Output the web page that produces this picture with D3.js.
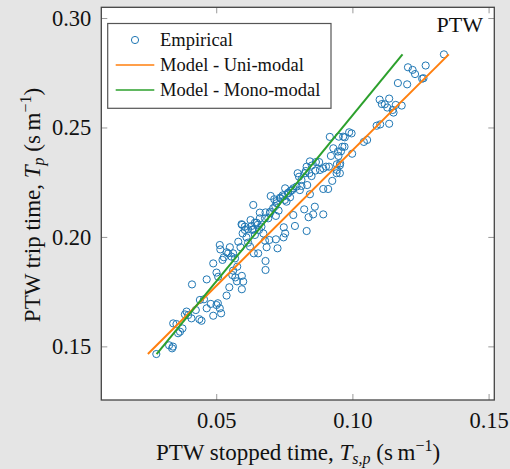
<!DOCTYPE html>
<html>
<head>
<meta charset="utf-8">
<script src="https://cdn.jsdelivr.net/npm/d3@7"></script>
<style>
body { margin: 0; background: #e5e5e5; }
text { font-family: "Liberation Serif", "DejaVu Serif", serif; fill: #111; }
</style>
</head>
<body>
<script>
// empirical points, stopped time (x) vs trip time (y)
var stopped = [
 0.1336,0.1269,0.1204,0.1221,0.1230,0.1256,0.1261,0.1167,0.1201,0.1100,
 0.1135,0.1108,0.1119,0.1128,0.1159,0.1181,0.1148,0.1151,0.1135,0.1102,
 0.1089,0.1054,0.1042,0.0999,0.0988,0.0997,0.0966,0.0972,0.0950,0.0917,
 0.0963,0.0971,0.0930,0.0958,0.0947,0.0921,0.0949,0.0955,0.0943,0.0954,
 0.0943,0.0942,0.0954,0.0926,0.0911,0.0893,0.0893,0.0903,0.0914,0.0844,
 0.0866,0.0878,0.0851,0.0864,0.0881,0.0842,0.0850,0.0829,0.0834,0.0844,
 0.0862,0.0856,0.0893,0.0839,0.0832,0.0789,0.0799,0.0804,0.0813,0.0807,
 0.0783,0.0773,0.0764,0.0753,0.0771,0.0752,0.0744,0.0734,0.0722,0.0717,
 0.0700,0.0713,0.0758,0.0823,0.0783,0.0729,0.0719,0.0697,0.0681,0.0660,
 0.0636,0.0748,0.0753,0.0747,0.0719,0.0725,0.0695,0.0685,0.0679,0.0673,
 0.0666,0.0652,0.0648,0.0636,0.0630,0.0617,0.0642,0.0657,0.0605,0.0593,
 0.0597,0.0611,0.0617,0.0624,0.0638,0.0654,0.0681,0.0681,0.0589,0.0562,
 0.0581,0.0550,0.0538,0.0528,0.0523,0.0544,0.0556,0.0569,0.0513,0.0515,
 0.0489,0.0501,0.0507,0.0562,0.0577,0.0559,0.0570,0.0594,0.0599,0.0576,
 0.0548,0.0594,0.0538,0.0506,0.0513,0.0518,0.0501,0.0489,0.0465,0.0480,
 0.0455,0.0465,0.0411,0.0440,0.0446,0.0438,0.0425,0.0409,0.0397,0.0391,
 0.0385,0.0376,0.0367,0.0360,0.0354,0.0342,0.0327,0.0338,0.0341,0.0280,
 0.0595,0.0605,0.0626,0.0632,0.0642,0.0660,0.0679,0.0691,0.0698,0.0709,
 0.0722,0.0736,0.0746,0.0764,0.0779,0.0795,0.0813,0.0826,0.0832
];
var trip = [
 0.2834,0.2783,0.2775,0.2763,0.2744,0.2723,0.2725,0.2703,0.2697,0.2627,
 0.2632,0.2607,0.2606,0.2591,0.2603,0.2600,0.2580,0.2568,0.2517,0.2514,
 0.2508,0.2443,0.2434,0.2380,0.2478,0.2473,0.2458,0.2455,0.2458,0.2457,
 0.2412,0.2412,0.2405,0.2391,0.2390,0.2370,0.2370,0.2336,0.2332,0.2327,
 0.2306,0.2291,0.2291,0.2256,0.2219,0.2219,0.2313,0.2321,0.2321,0.2345,
 0.2342,0.2342,0.2326,0.2303,0.2306,0.2291,0.2278,0.2301,0.2237,0.2195,
 0.2138,0.2103,0.2103,0.2090,0.2027,0.2050,0.2291,0.2275,0.2233,0.2214,
 0.2222,0.2211,0.2199,0.2222,0.2181,0.2169,0.2190,0.2179,0.2164,0.2141,
 0.2187,0.2172,0.2161,0.2126,0.2100,0.2120,0.2096,0.2108,0.2112,0.2111,
 0.2146,0.2044,0.2016,0.1998,0.1989,0.1948,0.1986,0.1953,0.1983,0.2016,
 0.2047,0.2055,0.2065,0.2035,0.2050,0.2035,0.2009,0.2032,0.2032,0.2058,
 0.2016,0.1998,0.1974,0.1956,0.1925,0.1925,0.1890,0.1849,0.1953,0.1925,
 0.1978,0.1953,0.1930,0.1907,0.1895,0.1925,0.1910,0.1902,0.1963,0.1943,
 0.1879,0.1837,0.1818,0.1846,0.1864,0.1826,0.1815,0.1822,0.1796,0.1797,
 0.1770,0.1761,0.1732,0.1697,0.1674,0.1651,0.1689,0.1640,0.1674,0.1694,
 0.1715,0.1806,0.1783,0.1712,0.1617,0.1624,0.1666,0.1628,0.1643,0.1659,
 0.1646,0.1582,0.1567,0.1560,0.1602,0.1605,0.1505,0.1491,0.1499,0.1465,
 0.2055,0.2047,0.2077,0.2032,0.2065,0.2085,0.2085,0.2085,0.2115,0.2131,
 0.2154,0.2175,0.2184,0.2202,0.2214,0.2230,0.2260,0.2291,0.2321
];

// model lines (end points)
var uniX = [0.0249, 0.1354];
var uniY = [0.1465, 0.2834];
var monoX = [0.0281, 0.1184];
var monoY = [0.1465, 0.2834];

var xTicks = [0.05, 0.10, 0.15];
var yTicks = [0.15, 0.20, 0.25, 0.30];
var legendLabels = ["Empirical", "Model - Uni-modal", "Model - Mono-modal"];

var W = 510, H = 469;
var pLeft = 101.3, pRight = 494.3, pTop = 7.3, pBottom = 400;
var serif = '"Liberation Serif", "DejaVu Serif", serif';

var svg = d3.select("body").append("svg")
    .attr("width", W)
    .attr("height", H);

var x = d3.scaleLinear().domain([0.0078, 0.1521]).range([pLeft, pRight]);
var y = d3.scaleLinear().domain([0.1255, 0.3049]).range([pBottom, pTop]);

// plot background
svg.append("rect")
    .attr("x", pLeft).attr("y", pTop)
    .attr("width", pRight - pLeft).attr("height", pBottom - pTop)
    .attr("fill", "#fff");

// ticks on all four sides, pointing inward
var tickFmt = d3.format(".2f");
svg.append("g").attr("transform", "translate(0," + pBottom + ")")
    .call(d3.axisBottom(x).tickValues(xTicks).tickSize(-6).tickFormat(tickFmt).tickPadding(12))
    .call(g => g.select(".domain").remove());
svg.append("g").attr("transform", "translate(0," + pTop + ")")
    .call(d3.axisTop(x).tickValues(xTicks).tickSize(-6).tickFormat(""))
    .call(g => g.select(".domain").remove());
svg.append("g").attr("transform", "translate(" + pLeft + ",0)")
    .call(d3.axisLeft(y).tickValues(yTicks).tickSize(-6).tickFormat(tickFmt).tickPadding(10))
    .call(g => g.select(".domain").remove());
svg.append("g").attr("transform", "translate(" + pRight + ",0)")
    .call(d3.axisRight(y).tickValues(yTicks).tickSize(-6).tickFormat(""))
    .call(g => g.select(".domain").remove());

svg.selectAll("g.tick").select("line").attr("stroke", "#999").attr("stroke-width", 1);
svg.selectAll("g.tick").select("text")
    .attr("font-family", null)
    .style("font-family", serif)
    .style("font-size", "22.5px")
    .attr("fill", "#111");

// scatter
svg.append("g").selectAll("circle")
    .data(stopped)
    .enter()
    .append("circle")
    .attr("cx", function (d) { return x(d); })
    .attr("cy", function (d, i) { return y(trip[i]); })
    .attr("r", 3.6)
    .attr("fill", "none")
    .attr("stroke", "#1f77b4")
    .attr("stroke-width", 1);

var line = d3.line()
    .x(function (d) { return x(d[0]); })
    .y(function (d) { return y(d[1]); });

svg.append("path")
    .datum(d3.zip(uniX, uniY))
    .attr("d", line)
    .attr("fill", "none")
    .attr("stroke", "#ff7f0e")
    .attr("stroke-width", 2);

svg.append("path")
    .datum(d3.zip(monoX, monoY))
    .attr("d", line)
    .attr("fill", "none")
    .attr("stroke", "#2ca02c")
    .attr("stroke-width", 2);

// frame
svg.append("rect")
    .attr("x", pLeft).attr("y", pTop)
    .attr("width", pRight - pLeft).attr("height", pBottom - pTop)
    .attr("fill", "none")
    .attr("stroke", "#444")
    .attr("stroke-width", 1.3);

// PTW tag
svg.append("text")
    .attr("x", 483).attr("y", 32)
    .attr("text-anchor", "end")
    .style("font-family", serif)
    .style("font-size", "22px")
    .text("PTW");

// legend
var lg = svg.append("g");
lg.append("rect")
    .attr("x", 107.7).attr("y", 23.5)
    .attr("width", 223.3).attr("height", 84.8)
    .attr("fill", "#fff")
    .attr("stroke", "#555")
    .attr("stroke-width", 1.2);

var rowY = [40, 65, 90];
lg.append("circle")
    .attr("cx", 135).attr("cy", rowY[0])
    .attr("r", 3.6)
    .attr("fill", "none")
    .attr("stroke", "#1f77b4");
lg.append("line")
    .attr("x1", 115.7).attr("x2", 154.3)
    .attr("y1", rowY[1]).attr("y2", rowY[1])
    .attr("stroke", "#ff7f0e").attr("stroke-width", 1.5);
lg.append("line")
    .attr("x1", 115.7).attr("x2", 154.3)
    .attr("y1", rowY[2]).attr("y2", rowY[2])
    .attr("stroke", "#2ca02c").attr("stroke-width", 1.5);

lg.selectAll("text.leg")
    .data(legendLabels)
    .enter()
    .append("text")
    .attr("class", "leg")
    .attr("x", 160)
    .attr("y", function (d, i) { return rowY[i] + 6; })
    .style("font-family", serif)
    .style("font-size", "18.5px")
    .text(function (d) { return d; });

// x label
var xl = svg.append("text")
    .attr("x", 298).attr("y", 460)
    .attr("text-anchor", "middle")
    .style("font-family", serif)
    .style("font-size", "23px");
xl.append("tspan").text("PTW stopped time, ");
xl.append("tspan").style("font-style", "italic").text("T");
xl.append("tspan").style("font-style", "italic").style("font-size", "16px").attr("dy", 4).text("s,p");
xl.append("tspan").attr("dy", -4).text(" (s\u2009m");
xl.append("tspan").style("font-size", "16px").attr("dy", -9).text("\u22121");
xl.append("tspan").attr("dy", 9).text(")");

// y label
var yl = svg.append("text")
    .attr("transform", "translate(40," + 205 + ") rotate(-90)")
    .attr("text-anchor", "middle")
    .style("font-family", serif)
    .style("font-size", "23px");
yl.append("tspan").text("PTW trip time, ");
yl.append("tspan").style("font-style", "italic").text("T");
yl.append("tspan").style("font-style", "italic").style("font-size", "16px").attr("dy", 4).text("p");
yl.append("tspan").attr("dy", -4).text(" (s\u2009m");
yl.append("tspan").style("font-size", "16px").attr("dy", -9).text("\u22121");
yl.append("tspan").attr("dy", 9).text(")");
</script>
</body>
</html>
